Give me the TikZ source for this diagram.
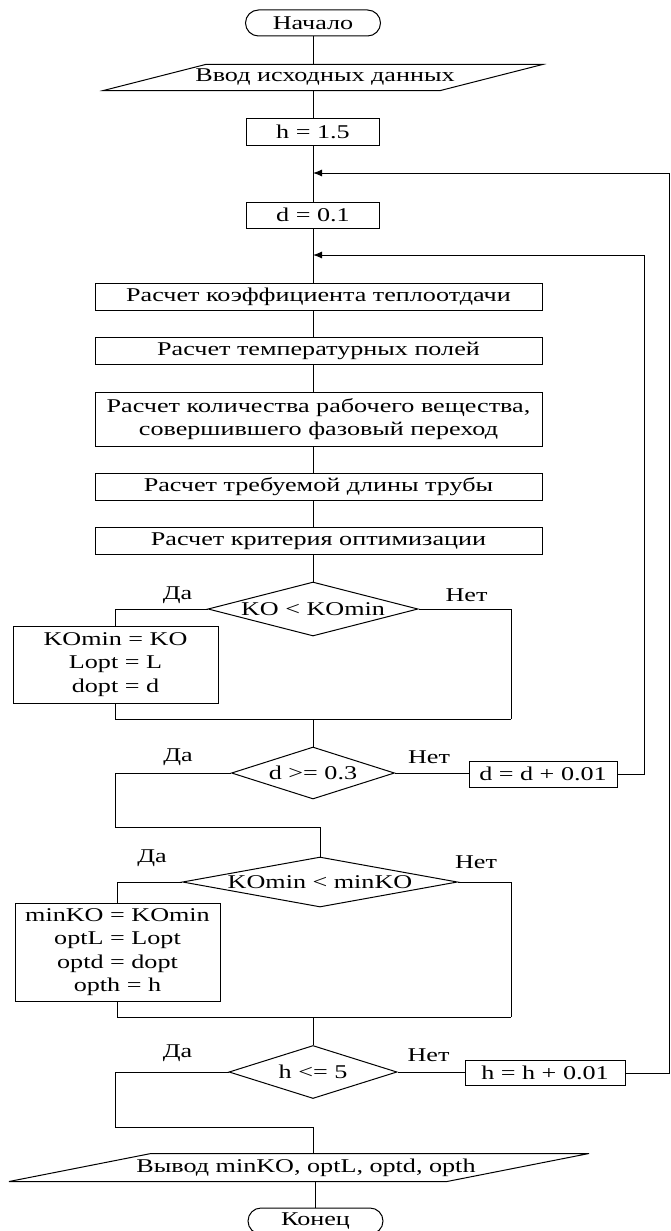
\documentclass[tikz,border=0pt]{standalone}
\usepackage{fontspec}
\setmainfont[FakeStretch=1.34]{Liberation Serif}
\usetikzlibrary{arrows.meta, positioning, shapes.geometric, shapes.misc, calc}

\begin{document}
\begin{tikzpicture}[x=1pt, y=-1pt, line width=1pt,
    font=\fontsize{19.5}{23.5}\selectfont,
    % blocks of the flowchart
    sproc/.style={draw, inner sep=0pt, minimum height=27pt},
    sterm/.style={draw, rounded rectangle, minimum width=135pt, minimum height=26pt, inner sep=0pt},
    sio/.style={inner sep=0pt, minimum height=25pt},
    sdec/.style={draw, diamond, inner sep=0pt},
    slbl/.style={inner sep=0pt},
    jarr/.style={-{Latex[length=9pt, width=7pt]}}]

\useasboundingbox (0,0) rectangle (671,1231);

% Start, input, initial values
\node[sterm] (start) at (313,23) {Начало};
\node[sio, minimum width=336pt] (inp) at (325,77.5) {Ввод исходных данных};
\draw ([xshift=49pt]inp.north west) -- ([xshift=49pt]inp.north east) -- ([xshift=-53pt]inp.south east) -- ([xshift=-53pt]inp.south west) -- cycle;
\node[sproc, minimum width=133pt] (h0) at (313,131.5) {h = 1.5};
\coordinate (j1) at (313,173);
\node[sproc, minimum width=133pt, minimum height=26pt] (d0) at (313,215) {d = 0.1};
\coordinate (j2) at (313,255);

% Calculation blocks
\node[sproc, minimum width=447pt] (c1) at (318.5,296.5) {Расчет коэффициента теплоотдачи};
\node[sproc, minimum width=447pt] (c2) at (318.5,350.5) {Расчет температурных полей};
\node[sproc, minimum width=447pt, minimum height=54pt, align=center] (c3) at (318.5,419) {Расчет количества рабочего вещества,\\совершившего фазовый переход};
\node[sproc, minimum width=447pt] (c4) at (318.5,487) {Расчет требуемой длины трубы};
\node[sproc, minimum width=447pt] (c5) at (318.5,541) {Расчет критерия оптимизации};

\draw (start.south) -- (inp.north -| start.south);
\draw (inp.south -| h0.north) -- (h0.north);
\draw (h0) -- (d0);
\draw (d0) -- (c1.north -| d0);
\draw (c1.south -| d0) -- (c2.north -| d0);
\draw (c2.south -| d0) -- (c3.north -| d0);
\draw (c3.south -| d0) -- (c4.north -| d0);
\draw (c4.south -| d0) -- (c5.north -| d0);

% First check
\node[sdec, minimum width=210pt, minimum height=54pt, aspect=3.9] (k1) at (313,609) {KO < KOmin};
\draw (c5.south -| d0) -- (k1.north);
\node[slbl] at ([xshift=-30pt, yshift=14pt]k1.west) {Да};
\node[slbl] at ([xshift=48pt, yshift=14pt]k1.east) {Нет};
\node[sproc, minimum width=205pt, minimum height=77pt, align=center] (kset) at (115.5,664.5) {KOmin = KO\\Lopt = L\\dopt = d};
\coordinate (r1) at (511,719);
\draw (k1.west) -| (kset.north);
\draw (k1.east) -| (r1);
\draw (kset.south) |- (r1);

% Loop over d
\node[sdec, minimum width=163pt, minimum height=52pt, aspect=3.1] (k2) at (313,773) {d >= 0.3};
\draw (r1 -| k2.north) -- (k2.north);
\node[slbl] at ([xshift=-53pt, yshift=16pt]k2.west) {Да};
\node[slbl] at ([xshift=34pt, yshift=16pt]k2.east) {Нет};
\node[sproc, minimum width=148pt, minimum height=26pt] (dinc) at (543,774) {d = d + 0.01};
\draw (k2.east) -- (k2.east -| dinc.west);
\coordinate (r2) at (644,255);
\draw[jarr] (dinc.east) -| (r2) -- (j2);

% Second check
\coordinate (l2) at (115,827);
\node[sdec, minimum width=275pt, minimum height=50pt, aspect=5.5] (k3) at (320,882) {KOmin < minKO};
\draw (k2.west) -| (l2) -- (l2 -| k3.north) -- (k3.north);
\node[slbl] at ([xshift=-30pt, yshift=24pt]k3.west) {Да};
\node[slbl] at ([xshift=18pt, yshift=20pt]k3.east) {Нет};
\node[sproc, minimum width=205pt, minimum height=98pt, align=center] (mset) at (117.5,952) {minKO = KOmin\\optL = Lopt\\optd = dopt\\opth = h};
\coordinate (r3) at (511,1017);
\draw (k3.west) -| (mset.north);
\draw (k3.east) -| (r3);
\draw (mset.south) |- (r3);

% Loop over h
\node[sdec, minimum width=168pt, minimum height=53pt, aspect=3.2] (k4) at (313,1072) {h <= 5};
\draw (r3 -| k4.north) -- (k4.north);
\node[slbl] at ([xshift=-51pt, yshift=19pt]k4.west) {Да};
\node[slbl] at ([xshift=31pt, yshift=17pt]k4.east) {Нет};
\node[sproc, minimum width=160pt, minimum height=25pt] (hinc) at (545,1073) {h = h + 0.01};
\draw (k4.east) -- (k4.east -| hinc.west);
\coordinate (r4) at (669,173);
\draw[jarr] (hinc.east) -| (r4) -- (j1);

% Output and end
\coordinate (l4) at (115,1127);
\node[sio, minimum width=437pt, minimum height=27pt] (outp) at (306,1167.5) {Вывод minKO, optL, optd, opth};
\draw ([xshift=64pt]outp.north west) -- ([xshift=64pt]outp.north east) -- ([xshift=-78pt]outp.south east) -- ([xshift=-78pt]outp.south west) -- cycle;
\draw (k4.west) -| (l4) -- (l4 -| k4.south) -- (outp.north -| k4.south);
\node[sterm] (stop) at (315.5,1221) {Конец};
\draw (outp.south -| stop.north) -- (stop.north);

\end{tikzpicture}
\end{document}
